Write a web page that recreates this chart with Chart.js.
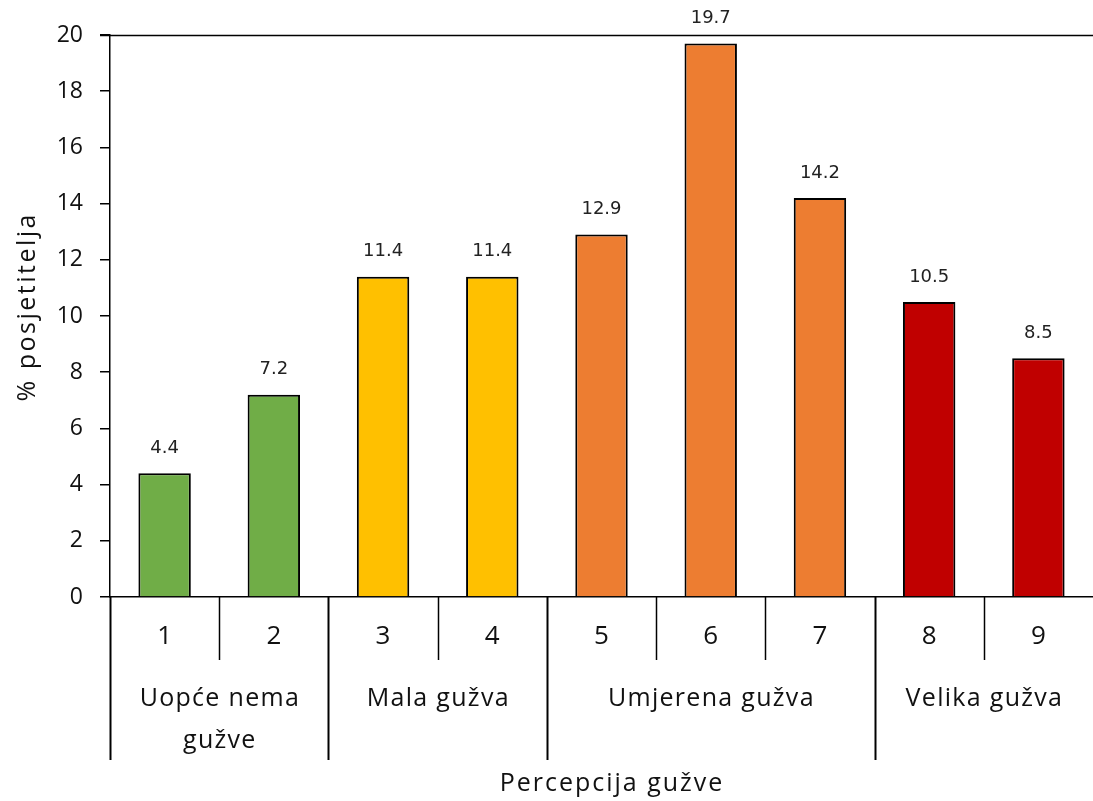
<!DOCTYPE html>
<html><head><meta charset="utf-8">
<script src="https://cdn.jsdelivr.net/npm/chart.js@4/dist/chart.umd.min.js"></script>
<style>html,body{margin:0;padding:0;background:#fff;}#wrap{width:1093px;height:801px;position:relative;}</style>
</head><body><div id="wrap"><canvas id="c" width="1093" height="801"></canvas></div>
<script>
const categories = ["1","2","3","4","5","6","7","8","9"];
const values = [4.4, 7.2, 11.4, 11.4, 12.9, 19.7, 14.2, 10.5, 8.5];
const groups = [
  {label: ["Uopće nema", "gužve"], from: 0, to: 1},
  {label: ["Mala gužva"], from: 2, to: 3},
  {label: ["Umjerena gužva"], from: 4, to: 6},
  {label: ["Velika gužva"], from: 7, to: 8}
];
const barColors = ["#70AD47","#70AD47","#FFC000","#FFC000","#ED7D31","#ED7D31","#ED7D31","#C00000","#C00000"];
const yTicks = [0,2,4,6,8,10,12,14,16,18,20];
const yTitle = "% posjetitelja";
const xTitle = "Percepcija gužve";
const FONT = "'Open Sans', 'DejaVu Sans', sans-serif";

function spacedText(ctx, text, x, y, spacing) {
  ctx.letterSpacing = spacing + 'px';
  ctx.fillText(text, x + spacing / 2, y);
  ctx.letterSpacing = '0px';
}

const decor = {
  id: 'decor',
  afterDraw(chart) {
    const ctx = chart.ctx, x = chart.scales.x, y = chart.scales.y;
    const bottom = y.getPixelForValue(0), top = y.getPixelForValue(20);
    ctx.save();
    ctx.strokeStyle = '#000'; ctx.lineWidth = 1.5;
    ctx.beginPath(); ctx.moveTo(100, Math.round(top)+0.5); ctx.lineTo(chart.chartArea.right, Math.round(top)+0.5); ctx.stroke();
    const half = (x.getPixelForValue(1) - x.getPixelForValue(0)) / 2;
    const groupStarts = new Set(groups.map(g => g.from));
    for (let i = 0; i < categories.length; i++) {
      const px = x.getPixelForValue(i) - half;
      const long = groupStarts.has(i);
      ctx.lineWidth = long ? 2 : 1.5;
      ctx.beginPath(); ctx.moveTo(Math.round(px)+0.5, bottom); ctx.lineTo(Math.round(px)+0.5, long ? 760 : 660); ctx.stroke();
    }
    ctx.fillStyle = '#111'; ctx.textAlign = 'center'; ctx.textBaseline = 'middle';
    ctx.font = "26px " + FONT;
    categories.forEach((c, i) => ctx.fillText(c, x.getPixelForValue(i), 637));
    ctx.font = "25px " + FONT;
    groups.forEach(g => {
      const cx = (x.getPixelForValue(g.from) + x.getPixelForValue(g.to)) / 2;
      g.label.forEach((l, k) => spacedText(ctx, l, cx, 699 + k * 42, 1.3));
    });
    ctx.font = "25px " + FONT;
    spacedText(ctx, xTitle, 611, 784, 2);
    ctx.translate(28, 308); ctx.rotate(-Math.PI/2);
    ctx.font = "25px " + FONT;
    spacedText(ctx, yTitle, 0, 0, 2.5);
    ctx.restore();
    ctx.save();
    ctx.font = "18px 'DejaVu Sans', sans-serif"; ctx.fillStyle = '#222';
    ctx.textAlign = 'center'; ctx.textBaseline = 'middle';
    const meta = chart.getDatasetMeta(0);
    meta.data.forEach((b, i) => ctx.fillText(values[i].toFixed(1), b.x, b.y - 25));
    ctx.restore();
  }
};

new Chart(document.getElementById('c'), {
  type: 'bar',
  data: { labels: categories, datasets: [{ data: values, backgroundColor: barColors, borderColor: '#000', borderWidth: 2, borderSkipped: 'bottom', barPercentage: 0.48, categoryPercentage: 1 }] },
  options: {
    responsive: false, animation: false, devicePixelRatio: 1,
    layout: { padding: { top: 35, right: 0, left: 0, bottom: 0 } },
    plugins: { legend: { display: false }, tooltip: { enabled: false } },
    scales: {
      x: {
        ticks: { display: false },
        grid: { display: false },
        border: { display: true, color: '#000', width: 1.5 },
        afterFit(s) { s.height = 801 - 35 - 562; }
      },
      y: {
        min: 0, max: 20,
        afterBuildTicks(s) { s.ticks = yTicks.map(v => ({ value: v })); },
        ticks: { color: '#111', font: { size: 23, family: FONT }, padding: 17 },
        grid: { drawOnChartArea: false, tickLength: 10, color: '#000', lineWidth: 1.5 },
        border: { display: true, color: '#000', width: 1.5 },
        afterFit(s) { s.width = 110; }
      }
    }
  },
  plugins: [decor]
});
</script></body></html>
